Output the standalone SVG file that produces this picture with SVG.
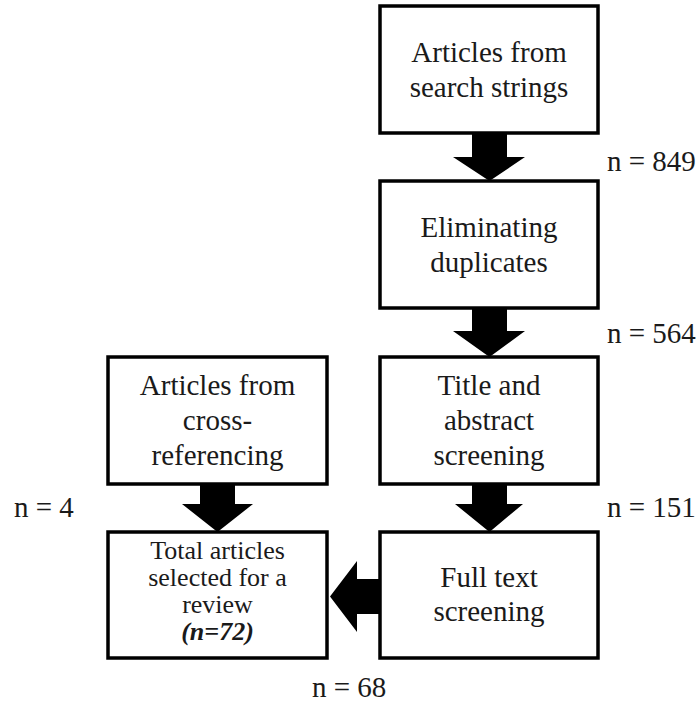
<svg xmlns="http://www.w3.org/2000/svg" width="699" height="710" viewBox="0 0 699 710">
<style>
.box{fill:#fff;stroke:#000;stroke-width:3.5}
.t{font-size:29px;text-anchor:middle;fill:#1a1a1a}
.s{font-size:26px;text-anchor:middle;fill:#1a1a1a}
.n{font-size:29px;fill:#1a1a1a}
.arr{fill:#000}
</style>
<rect width="699" height="710" fill="#fff"/>
<g id="connectors">
<polygon class="arr" points="472,133 507,133 507,157 525,157 489.5,181 453,157 472,157"/>
<polygon class="arr" points="472,308 507,308 507,331 525,331 489.5,357 453,331 472,331"/>
<polygon class="arr" points="472,484 507,484 507,504 523,504 489.5,532 455,504 472,504"/>
<polygon class="arr" points="200,484 235,484 235,504 253,504 217.5,532 182,504 200,504"/>
<polygon class="arr" points="380,579 357,579 357,561 330,596.5 357,632 357,614 380,614"/>
</g>
<g id="node-search">
<rect class="box" x="380" y="6" width="218" height="127"/>
<text class="t" font-family="Liberation Serif" x="489" y="62">Articles from</text>
<text class="t" font-family="Liberation Serif" x="489" y="97">search strings</text>
</g>
<g id="node-dup">
<rect class="box" x="380" y="181" width="218" height="127"/>
<text class="t" font-family="Liberation Serif" x="489" y="237">Eliminating</text>
<text class="t" font-family="Liberation Serif" x="489" y="272">duplicates</text>
</g>
<g id="node-title">
<rect class="box" x="380" y="357" width="218" height="127"/>
<text class="t" font-family="Liberation Serif" x="489" y="395">Title and</text>
<text class="t" font-family="Liberation Serif" x="489" y="430">abstract</text>
<text class="t" font-family="Liberation Serif" x="489" y="465">screening</text>
</g>
<g id="node-cross">
<rect class="box" x="108" y="357" width="219" height="127"/>
<text class="t" font-family="Liberation Serif" x="217.5" y="395">Articles from</text>
<text class="t" font-family="Liberation Serif" x="217.5" y="430">cross-</text>
<text class="t" font-family="Liberation Serif" x="217.5" y="465">referencing</text>
</g>
<g id="node-full">
<rect class="box" x="380" y="532" width="218" height="126"/>
<text class="t" font-family="Liberation Serif" x="489" y="587">Full text</text>
<text class="t" font-family="Liberation Serif" x="489" y="621">screening</text>
</g>
<g id="node-total">
<rect class="box" x="108" y="532" width="219" height="126"/>
<text class="s" font-family="Liberation Serif" x="217.5" y="559">Total articles</text>
<text class="s" font-family="Liberation Serif" x="217.5" y="586">selected for a</text>
<text class="s" font-family="Liberation Serif" x="217.5" y="613">review</text>
<text class="s" font-family="Liberation Serif" x="217.5" y="640" font-weight="bold" font-style="italic">(n=72)</text>
</g>
<g id="labels">
<text class="n" font-family="Liberation Serif" x="607" y="171">n = 849</text>
<text class="n" font-family="Liberation Serif" x="607" y="343">n = 564</text>
<text class="n" font-family="Liberation Serif" x="607" y="517">n = 151</text>
<text class="n" font-family="Liberation Serif" x="14" y="517">n = 4</text>
<text class="n" font-family="Liberation Serif" x="312" y="697">n = 68</text>
</g>
</svg>
